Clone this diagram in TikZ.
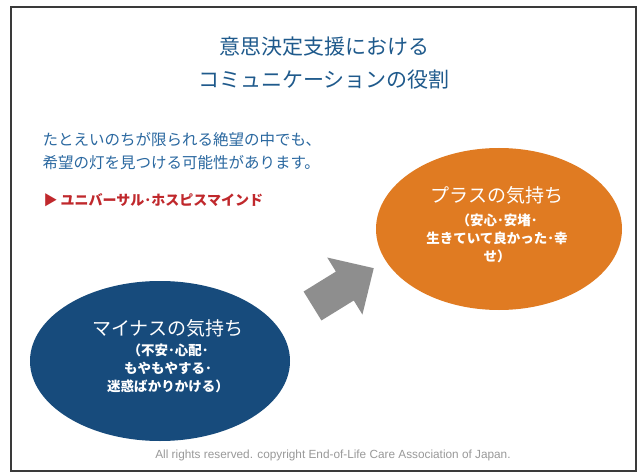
\documentclass[tikz,border=0pt]{standalone}
\usepackage{fontspec}
\setmainfont{Noto Sans CJK JP}
\newfontfamily\footfont{Liberation Sans}
\usetikzlibrary{shapes.geometric}
\definecolor{titleblue}{HTML}{1F5A8C}
\definecolor{bodyblue}{HTML}{2A68A0}
\definecolor{markred}{HTML}{C0282C}
\definecolor{plusorange}{HTML}{E07B22}
\definecolor{minusblue}{HTML}{174B7C}
\definecolor{arrowgray}{HTML}{8E8E8E}
\definecolor{framegray}{HTML}{3A3A3A}
\tikzset{
  blob/.style={ellipse, inner sep=0pt},
  blobhead/.style={text=white, font=\fontsize{19}{22}\selectfont},
  blobtext/.style={text=white, font=\fontsize{13.5}{18}\selectfont\bfseries, align=center},
  bodytext/.style={text=bodyblue, anchor=west, font=\fontsize{15.5}{23}\selectfont, align=left},
}
\begin{document}
\begin{tikzpicture}[x=1pt,y=-1pt]
\useasboundingbox (0,0) rectangle (640,473);
\fill[white] (0,0) rectangle (640,473);
% frame
\draw[framegray, line width=2pt] (11,7) rectangle (636,471);
% title
\node[text=titleblue, font=\fontsize{21}{33}\selectfont, align=center] (title) at (324,63)
  {意思決定支援における\\コミュニケーションの役割};
% body text
\node[bodytext] (body) at (39,151) {たとえいのちが限られる絶望の中でも、\\希望の灯を見つける可能性があります。};
\node[text=markred, anchor=west, font=\fontsize{14}{16}\selectfont\bfseries] (mind) at (40,200)
  {▶ ユニバーサル･ホスピスマインド};
% ellipses
\node[blob, fill=plusorange, minimum width=246, minimum height=162] (plus) at (499,229) {};
\node[blob, fill=minusblue, minimum width=260, minimum height=160] (minus) at (160,361) {};
\node[blobhead] (plushead) at (497,195) {プラスの気持ち};
\node[blobtext] (plustext) at (497,238) {（安心･安堵･\\生きていて良かった･幸\\せ）};
\node[blobhead] (minushead) at (168,328) {マイナスの気持ち};
\node[blobtext] (minustext) at (168,368) {（不安･心配･\\もやもやする･\\迷惑ばかりかける）};
% arrow
\begin{scope}[shift={(312.5,306)}, rotate=31.7]
\fill[arrowgray] (0,-17) -- (38,-17) -- (38,-33.5) -- (72,0) -- (38,33.5) -- (38,17) -- (0,17) -- cycle;
\end{scope}
% footer
\node[text=black!40, font=\footfont\fontsize{11.8}{13}\selectfont] (foot) at (333,455)
  {All rights reserved. copyright End-of-Life Care Association of Japan.};
\end{tikzpicture}
\end{document}
